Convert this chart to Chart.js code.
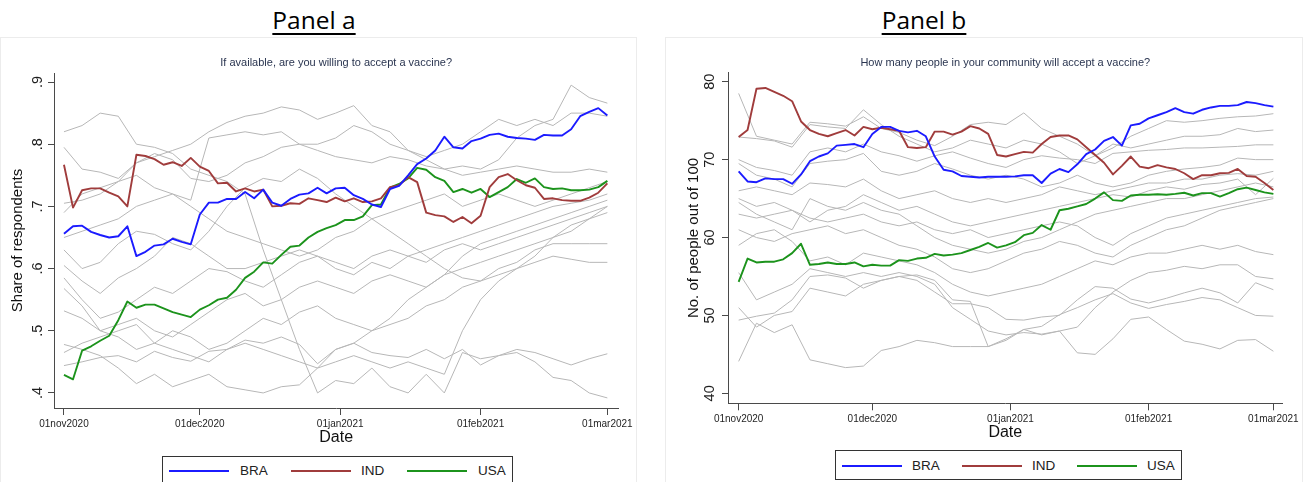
<!DOCTYPE html>
<html>
<head>
<meta charset="utf-8">
<title>Vaccine acceptance over time</title>
<script src="https://cdn.jsdelivr.net/npm/chart.js@4.4.1/dist/chart.umd.min.js"></script>
<style>
  html, body { margin: 0; padding: 0; background: #fff; }
  body { width: 1306px; height: 482px; overflow: hidden; position: relative;
         font-family: "Liberation Sans", Arial, sans-serif; }
  .panel-title { position: absolute; top: 0; transform: translateX(-50%);
                 font-family: "Open Sans", sans-serif; font-size: 24.5px; line-height: 40px;
                 color: #000; text-decoration: underline; text-decoration-thickness: 2px;
                 text-underline-offset: 4px; white-space: nowrap; }
  .frame { position: absolute; top: 37px; height: 460px; border: 1px solid #ececec;
           border-bottom: none; box-sizing: border-box; }
  canvas { position: absolute; }
  .legend { position: absolute; border: 1px solid #333; background: #fff; box-sizing: border-box; }
  .legend .key { position: absolute; height: 2px; }
  .legend .lab { position: absolute; font-size: 13.5px; line-height: 16px; color: #222; }
</style>
</head>
<body>
<div class="panel-title" style="left:314px">Panel a</div>
<div class="panel-title" style="left:924px">Panel b</div>
<div class="frame" style="left:0;width:637px"></div>
<div class="frame" style="left:665px;width:638px"></div>
<canvas id="panelA" width="636" height="415" style="left:0;top:37px"></canvas>
<canvas id="panelB" width="637" height="409" style="left:665px;top:37px"></canvas>

<div class="legend" id="legendA" style="left:162px;top:456px;width:351px;height:30px"></div>
<div class="legend" id="legendB" style="left:835px;top:450px;width:347px;height:30px"></div>

<script>
// ---- axis labels -------------------------------------------------------
const tickDates  = ['2020-11-01', '2020-12-01', '2021-01-01', '2021-02-01', '2021-03-01'];
const tickLabels = ['01nov2020', '01dec2020', '01jan2021', '01feb2021', '01mar2021'];
const shareTicks      = [0.4, 0.5, 0.6, 0.7, 0.8, 0.9];
const shareTickLabels = ['.4', '.5', '.6', '.7', '.8', '.9'];
const peopleTicks      = [40, 50, 60, 70, 80];
const peopleTickLabels = ['40', '50', '60', '70', '80'];
const countryNames = ['BRA', 'IND', 'USA'];

// highlighted countries: one value every 2 days from 01nov2020
const highlightStepDays = 2;
// remaining countries: one value every 4 days from 01nov2020
const otherStepDays = 4;

// ---- Panel a: share willing to accept a vaccine -------------------------
const braShare = [0.656,0.668,0.669,0.659,0.654,0.650,0.652,0.668,0.620,0.627,0.637,0.639,0.648,0.643,0.639,0.687,
  0.706,0.706,0.712,0.712,0.723,0.713,0.727,0.706,0.701,0.712,0.719,0.721,0.730,0.721,0.729,0.730,0.718,0.712,
  0.703,0.699,0.728,0.733,0.750,0.768,0.777,0.790,0.812,0.795,0.793,0.805,0.809,0.815,0.817,0.812,0.810,0.809,
  0.807,0.815,0.814,0.814,0.824,0.845,0.852,0.858,0.846];
const indShare = [0.767,0.698,0.726,0.729,0.729,0.722,0.716,0.700,0.783,0.781,0.776,0.767,0.771,0.765,0.778,0.764,
  0.757,0.737,0.738,0.724,0.729,0.724,0.727,0.700,0.701,0.705,0.704,0.713,0.710,0.707,0.714,0.708,0.713,0.707,
  0.708,0.713,0.731,0.734,0.747,0.739,0.690,0.686,0.684,0.675,0.683,0.673,0.685,0.731,0.747,0.752,0.742,0.734,
  0.730,0.712,0.713,0.710,0.709,0.709,0.714,0.722,0.737];
const usaShare = [0.429,0.422,0.468,0.475,0.484,0.492,0.517,0.547,0.537,0.542,0.542,0.536,0.530,0.526,0.522,0.534,
  0.541,0.550,0.553,0.566,0.585,0.595,0.610,0.608,0.622,0.635,0.637,0.650,0.659,0.665,0.670,0.678,0.678,0.684,
  0.702,0.703,0.730,0.736,0.745,0.762,0.759,0.747,0.741,0.723,0.728,0.722,0.728,0.715,0.723,0.731,0.744,0.738,
  0.745,0.731,0.728,0.729,0.726,0.726,0.727,0.731,0.741];

const otherShare01 = [0.820,0.830,0.850,0.845,0.800,0.795,0.785,0.760,0.750,0.740,0.720,0.630,0.550,0.470,0.400,0.420,0.415,0.440,0.410,0.400,0.430,0.400,0.465,0.455,0.460,0.465,0.450,0.425,0.420,0.400,0.392];
const otherShare02 = [0.795,0.760,0.755,0.745,0.770,0.785,0.775,0.745,0.740,0.750,0.770,0.780,0.795,0.800,0.790,0.780,0.775,0.770,0.780,0.775,0.765,0.760,0.750,0.755,0.760,0.765,0.760,0.755,0.755,0.760,0.755];
const otherShare03 = [0.705,0.710,0.720,0.740,0.770,0.780,0.790,0.800,0.820,0.835,0.845,0.850,0.860,0.855,0.840,0.850,0.862,0.830,0.820,0.790,0.775,0.760,0.765,0.760,0.775,0.810,0.830,0.840,0.895,0.875,0.866];
const otherShare04 = [0.690,0.720,0.730,0.740,0.750,0.730,0.720,0.710,0.810,0.815,0.820,0.815,0.820,0.800,0.800,0.810,0.830,0.820,0.800,0.790,0.780,0.790,0.800,0.820,0.840,0.830,0.840,0.830,0.850,0.850,0.845];
const otherShare05 = [0.630,0.600,0.610,0.640,0.660,0.655,0.640,0.630,0.660,0.700,0.730,0.745,0.740,0.760,0.745,0.720,0.700,0.680,0.660,0.640,0.620,0.600,0.585,0.580,0.590,0.600,0.610,0.620,0.615,0.610,0.610];
const otherShare06 = [0.605,0.580,0.560,0.585,0.600,0.620,0.650,0.640,0.620,0.600,0.600,0.610,0.620,0.630,0.620,0.600,0.590,0.610,0.600,0.620,0.630,0.640,0.650,0.660,0.670,0.680,0.690,0.700,0.705,0.710,0.720];
const otherShare07 = [0.585,0.550,0.520,0.530,0.550,0.570,0.560,0.580,0.600,0.595,0.580,0.570,0.590,0.610,0.620,0.610,0.600,0.620,0.630,0.620,0.610,0.630,0.640,0.630,0.640,0.650,0.660,0.670,0.680,0.690,0.700];
const otherShare08 = [0.568,0.540,0.500,0.510,0.520,0.500,0.490,0.510,0.530,0.550,0.560,0.540,0.550,0.570,0.580,0.570,0.560,0.580,0.590,0.580,0.570,0.590,0.620,0.640,0.650,0.660,0.670,0.680,0.690,0.700,0.710];
const otherShare09 = [0.532,0.520,0.500,0.490,0.470,0.480,0.500,0.490,0.470,0.480,0.500,0.520,0.510,0.530,0.540,0.520,0.510,0.500,0.520,0.550,0.570,0.590,0.600,0.610,0.620,0.630,0.640,0.650,0.660,0.680,0.690];
const otherShare10 = [0.465,0.480,0.490,0.500,0.510,0.480,0.470,0.460,0.450,0.470,0.480,0.470,0.460,0.450,0.440,0.450,0.460,0.450,0.440,0.450,0.440,0.430,0.500,0.550,0.580,0.600,0.620,0.650,0.670,0.680,0.700];
const otherShare11 = [0.478,0.470,0.460,0.440,0.415,0.430,0.410,0.420,0.430,0.410,0.405,0.400,0.410,0.413,0.440,0.470,0.480,0.500,0.510,0.520,0.540,0.550,0.570,0.580,0.600,0.610,0.630,0.640,0.640,0.640,0.640];
const otherShare12 = [0.444,0.450,0.457,0.460,0.450,0.467,0.457,0.451,0.467,0.470,0.485,0.480,0.490,0.478,0.447,0.470,0.480,0.465,0.460,0.457,0.470,0.455,0.470,0.445,0.460,0.470,0.465,0.455,0.445,0.455,0.463];
const otherShare13 = [0.650,0.660,0.670,0.680,0.700,0.710,0.720,0.700,0.680,0.660,0.650,0.640,0.630,0.620,0.630,0.650,0.660,0.680,0.690,0.700,0.710,0.720,0.700,0.710,0.720,0.710,0.700,0.710,0.720,0.730,0.740];

// ---- Panel b: people out of 100 in the community who will accept -----
const braPeople = [68.5,67.2,67.1,67.6,67.5,67.5,66.9,68.1,69.8,70.4,70.8,71.8,71.9,72.0,71.6,73.3,74.2,74.2,73.7,
  73.5,73.7,73.0,70.4,68.7,68.5,67.9,67.8,67.7,67.8,67.8,67.8,67.85,68.0,68.0,67.0,68.2,68.8,68.4,69.4,70.7,71.3,
  72.4,72.9,71.8,74.4,74.6,75.3,75.7,76.1,76.6,76.1,75.9,76.4,76.7,76.9,76.9,77.0,77.4,77.25,77.0,76.8];
const indPeople = [72.9,73.8,79.1,79.2,78.7,78.2,77.5,74.9,73.8,73.3,73.0,73.4,73.8,73.1,74.2,73.9,74.1,73.9,73.7,
  71.6,71.5,71.6,73.6,73.6,73.2,73.6,74.3,74.0,73.3,70.6,70.4,70.7,71.0,70.9,72.0,72.9,73.1,73.1,72.6,71.6,70.6,
  69.6,68.1,69.2,70.4,69.1,68.9,69.3,69.0,68.8,68.25,67.5,68.0,68.0,68.25,68.3,68.8,67.9,67.8,67.0,66.1];
const usaPeople = [54.3,57.3,56.8,56.9,56.9,57.2,58.0,59.2,56.5,56.6,56.8,56.6,56.6,56.8,56.3,56.5,56.4,56.4,57.1,
  57.0,57.3,57.4,57.9,57.7,57.8,58.0,58.4,58.8,59.3,58.7,59.0,59.4,60.3,60.6,61.6,61.0,63.5,63.7,64.0,64.3,65.0,
  65.8,64.8,64.7,65.4,65.5,65.5,65.55,65.5,65.6,65.75,65.4,65.7,65.7,65.25,65.7,66.2,66.4,66.1,65.8,65.6];

const otherPeople01 = [78.5,73.0,72.5,72.0,74.8,74.6,74.3,75.5,74.0,73.5,72.5,71.8,73.0,74.5,74.8,74.5,76.0,74.0,73.0,72.0,70.5,71.5,73.0,74.0,75.0,74.8,75.0,75.3,75.5,75.6,75.9];
const otherPeople02 = [72.9,72.7,72.4,71.6,74.5,74.2,74.0,76.4,74.5,73.0,72.0,71.0,71.5,72.5,72.0,71.5,72.5,72.0,71.0,69.5,70.5,72.0,71.5,72.0,72.5,73.0,73.0,73.2,74.0,73.6,73.8];
const otherPeople03 = [70.0,69.0,68.6,68.0,71.0,71.5,71.0,72.0,71.0,70.5,69.8,70.5,71.0,70.2,69.5,69.0,70.0,70.5,70.2,70.0,69.5,70.8,71.0,71.2,71.3,71.5,71.5,71.6,71.7,71.9,71.9];
const otherPeople04 = [69.5,68.0,67.5,66.5,69.5,69.8,70.0,70.8,68.5,68.0,68.5,69.5,68.8,68.0,67.5,68.0,67.5,66.5,67.0,68.0,67.0,66.5,67.0,68.0,68.5,68.8,69.0,69.3,70.2,70.0,70.0];
const otherPeople05 = [66.0,66.5,66.0,65.5,67.0,66.8,66.5,67.5,66.0,65.0,65.5,66.0,65.0,64.5,65.0,64.5,65.0,65.5,66.5,66.0,65.5,66.0,66.5,67.0,67.0,67.5,67.5,68.0,68.2,68.0,68.5];
const otherPeople06 = [65.0,64.0,64.5,63.5,62.0,63.5,64.0,65.5,64.5,63.5,64.0,63.0,62.0,61.5,62.0,62.5,63.0,63.5,64.0,64.5,65.0,65.5,65.2,66.0,66.5,66.2,66.8,67.0,67.5,65.5,67.6];
const otherPeople07 = [64.5,63.0,62.0,61.0,65.0,64.0,63.5,64.5,63.5,63.0,61.5,60.0,59.0,58.5,58.0,58.5,59.5,60.0,61.0,62.0,63.0,63.5,64.0,64.5,65.0,65.0,65.5,66.0,66.5,67.0,66.5];
const otherPeople08 = [63.0,62.5,63.0,63.5,62.5,62.0,62.5,63.0,62.0,61.5,62.0,61.0,60.5,61.0,60.0,60.5,61.0,61.5,62.0,61.5,60.0,59.0,60.5,61.5,62.5,63.0,63.5,64.0,64.5,65.0,65.2];
const otherPeople09 = [61.0,60.0,59.5,60.5,61.0,61.5,60.5,61.0,60.0,59.0,58.5,57.5,56.0,55.5,56.0,57.0,58.0,58.5,59.5,59.0,58.0,57.5,59.0,60.0,61.0,61.5,62.5,63.5,64.0,64.5,65.0];
const otherPeople10 = [59.0,60.5,61.0,59.5,57.0,57.5,56.5,58.0,57.5,57.0,56.5,55.5,54.0,53.0,52.5,53.0,53.5,54.0,55.0,56.0,57.0,56.5,57.5,58.0,58.0,58.5,59.0,58.5,59.0,58.2,57.8];
const otherPeople11 = [55.5,52.0,53.0,54.0,56.0,55.5,55.0,55.5,55.0,55.5,55.0,54.0,51.0,49.5,48.0,47.5,47.8,47.6,48.0,48.5,51.0,53.0,54.5,55.5,55.8,56.3,56.0,56.5,56.5,55.0,54.7];
const otherPeople12 = [49.4,49.9,50.3,52.0,55.0,55.2,54.8,53.5,54.5,55.0,54.5,53.0,51.5,51.5,51.0,49.5,49.4,49.8,50.0,52.0,53.7,53.5,52.1,51.6,52.2,52.9,53.5,52.9,51.6,54.2,53.3];
const otherPeople13 = [51.0,48.5,50.0,50.5,53.5,53.0,52.5,54.0,54.5,55.0,55.2,54.5,52.0,51.8,46.0,46.8,48.2,48.6,50.1,51.0,52.0,52.8,51.6,50.9,51.4,51.8,52.3,52.0,51.0,50.0,49.9];
const otherPeople14 = [44.1,49.0,47.8,48.8,44.3,43.8,43.3,43.5,45.5,46.0,46.8,46.5,46.0,46.0,46.0,47.0,48.2,47.5,48.0,45.2,45.0,47.0,49.5,49.8,48.2,46.7,46.3,45.7,46.8,46.9,45.4];

// ---- styling -------------------------------------------------------------
const countryColors = { BRA: '#1b1bff', IND: '#a03c3c', USA: '#1c931c' };
const otherColor = '#b7b7b7';
const axisColor = '#4a4a4a';
const textColor = '#1e1e1e';
const baseFont = '"Liberation Sans", Arial, sans-serif';

Chart.defaults.font.family = baseFont;
Chart.defaults.color = textColor;

function dayOffset(iso) {
  return (Date.parse(iso) - Date.parse(tickDates[0])) / 86400000;
}
const tickDays = tickDates.map(dayOffset);

function toPoints(values, step) {
  return values.map((v, i) => ({ x: i * step, y: v }));
}

function buildDatasets(highlighted, others) {
  const sets = highlighted.map((values, k) => ({
    label: countryNames[k],
    data: toPoints(values, highlightStepDays),
    borderColor: countryColors[countryNames[k]],
    borderWidth: 1.9,
    pointRadius: 0,
    tension: 0,
    borderJoinStyle: 'round'
  }));
  others.forEach((values, k) => sets.push({
    label: 'other' + (k + 1),
    data: toPoints(values, otherStepDays),
    borderColor: otherColor,
    borderWidth: 1,
    pointRadius: 0,
    tension: 0
  }));
  return sets;
}

function makePanel(canvasId, cfg) {
  const ctx = document.getElementById(canvasId).getContext('2d');
  return new Chart(ctx, {
    type: 'line',
    data: { datasets: buildDatasets(cfg.highlighted, cfg.others) },
    options: {
      responsive: false,
      animation: false,
      devicePixelRatio: 1,
      layout: { padding: { left: 0, right: cfg.rightPad, top: 0, bottom: 0 } },
      plugins: {
        legend: { display: false },
        tooltip: { enabled: false },
        title: {
          display: true,
          text: cfg.subtitle,
          fullSize: false,
          color: '#2a3550',
          font: { size: 11, weight: 'normal', family: baseFont },
          padding: cfg.subtitlePad
        }
      },
      scales: {
        x: {
          type: 'linear',
          min: cfg.xMin,
          max: cfg.xMax,
          afterBuildTicks: (scale) => { scale.ticks = tickDays.map(v => ({ value: v })); },
          afterFit: (scale) => { scale.height = cfg.xAxisHeight; },
          ticks: {
            autoSkip: false,
            maxRotation: 0,
            padding: 3,
            color: textColor,
            font: { size: 10 },
            callback: (value, index) => tickLabels[index]
          },
          grid: { display: true, drawOnChartArea: false, drawTicks: true, tickLength: 7, color: axisColor, lineWidth: 1 },
          border: { display: true, color: axisColor, width: 1 },
          title: {
            display: true, text: 'Date', color: '#111',
            font: { size: 16 }, padding: { top: 0, bottom: cfg.dateTitlePad }
          }
        },
        y: {
          type: 'linear',
          min: cfg.yMin,
          max: cfg.yMax,
          afterBuildTicks: (scale) => { scale.ticks = cfg.yTicks.map(v => ({ value: v })); },
          afterFit: (scale) => { scale.width = cfg.yAxisWidth; },
          ticks: {
            autoSkip: false,
            minRotation: 90,
            maxRotation: 90,
            crossAlign: 'center',
            padding: cfg.yTickPad,
            color: textColor,
            font: { size: cfg.yTickSize },
            callback: (value, index) => cfg.yTickLabels[index]
          },
          grid: { display: true, drawOnChartArea: false, drawTicks: true, tickLength: 6, color: axisColor, lineWidth: 1 },
          border: { display: true, color: axisColor, width: 1 },
          title: {
            display: true, text: cfg.yTitle, color: '#111',
            font: { size: 15 }, padding: { top: cfg.yTitlePad, bottom: 0 }
          }
        }
      }
    }
  });
}

makePanel('panelA', {
  subtitle: 'If available, are you willing to accept a vaccine?',
  subtitlePad: { top: 19.4, bottom: 3.4 },
  yTitle: 'Share of respondents',
  highlighted: [braShare, indShare, usaShare],
  others: [otherShare01, otherShare02, otherShare03, otherShare04, otherShare05, otherShare06, otherShare07,
           otherShare08, otherShare09, otherShare10, otherShare11, otherShare12, otherShare13],
  yTicks: shareTicks, yTickLabels: shareTickLabels,
  yMin: 0.3758, yMax: 0.9145,
  xMin: -2.2, xMax: 122.42,
  rightPad: 16, yAxisWidth: 54, xAxisHeight: 44,
  yTickSize: 14.5, yTickPad: 3.5, yTitlePad: 9, dateTitlePad: 4.4
});

makePanel('panelB', {
  subtitle: 'How many people in your community will accept a vaccine?',
  subtitlePad: { top: 19.7, bottom: 2.8 },
  yTitle: 'No. of people out of 100',
  highlighted: [braPeople, indPeople, usaPeople],
  others: [otherPeople01, otherPeople02, otherPeople03, otherPeople04, otherPeople05, otherPeople06, otherPeople07,
           otherPeople08, otherPeople09, otherPeople10, otherPeople11, otherPeople12, otherPeople13, otherPeople14],
  yTicks: peopleTicks, yTickLabels: peopleTickLabels,
  yMin: 38.72, yMax: 81.16,
  xMin: -2.39, xMax: 122.07,
  rightPad: 16, yAxisWidth: 63, xAxisHeight: 42.7,
  yTickSize: 14.5, yTickPad: 4, yTitlePad: 20, dateTitlePad: 3.7
});

// ---- legends -------------------------------------------------------------
function fillLegend(id, layout) {
  const box = document.getElementById(id);
  countryNames.forEach((name, k) => {
    const key = document.createElement('div');
    key.className = 'key';
    key.style.left = layout.keyLeft[k] + 'px';
    key.style.width = layout.keyWidth + 'px';
    key.style.top = layout.keyTop + 'px';
    key.style.background = countryColors[name];
    box.appendChild(key);
    const lab = document.createElement('div');
    lab.className = 'lab';
    lab.style.left = layout.textLeft[k] + 'px';
    lab.style.top = layout.textTop + 'px';
    lab.textContent = name;
    box.appendChild(lab);
  });
}
fillLegend('legendA', { keyLeft: [6, 128, 244], keyWidth: 60, keyTop: 13, textLeft: [77, 198, 315], textTop: 6 });
fillLegend('legendB', { keyLeft: [6, 126, 241], keyWidth: 60, keyTop: 14, textLeft: [76, 196, 311], textTop: 7 });
</script>
</body>
</html>
